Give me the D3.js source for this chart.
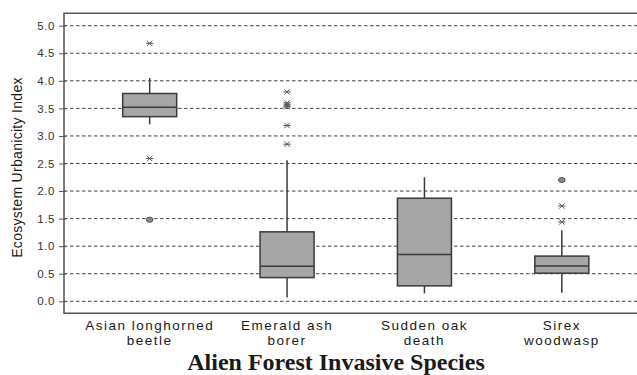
<!DOCTYPE html>
<html>
<head>
<meta charset="utf-8">
<script src="https://cdn.jsdelivr.net/npm/d3@7"></script>
<style>
  body { margin: 0; background: #fff; }
  svg { display: block; }
</style>
</head>
<body>
<svg id="chart" width="637" height="375"></svg>
<script>
// species on the x axis (two text lines each)
const categories = ["Asian longhorned beetle", "Emerald ash borer", "Sudden oak death", "Sirex woodwasp"];
const labelLines = [["Asian longhorned", "beetle"], ["Emerald ash", "borer"], ["Sudden oak", "death"], ["Sirex", "woodwasp"]];

// box plot summaries per species
const whiskerLow  = [3.21, 0.07, 0.145, 0.155];
const q1          = [3.35, 0.43, 0.28, 0.51];
const median      = [3.52, 0.635, 0.85, 0.64];
const q3          = [3.77, 1.26, 1.87, 0.82];
const whiskerHigh = [4.05, 2.56, 2.25, 1.29];

// outliers: stars (extreme) and circles (mild)
const extremeOutliers = [[4.68, 2.59], [3.80, 3.60, 3.56, 3.53, 3.19, 2.85], [], [1.73, 1.44]];
const mildOutliers    = [[1.48], [], [], [2.20]];

const yTicks = [0, 0.5, 1, 1.5, 2, 2.5, 3, 3.5, 4, 4.5, 5];

var svg = d3.select("#chart"),
    frame = { left: 64, right: 637, top: 13.3, bottom: 313.3 };

var x = d3.scaleBand()
    .domain(categories)
    .range([81, 630.5]);

var y = d3.scaleLinear()
    .domain([0, 5])
    .range([301.3, 25.7]);

const boxW = 54;
const ink = "#3a3a3a";

// grid lines
svg.append("g")
    .selectAll("line")
    .data(yTicks)
    .enter().append("line")
    .attr("x1", frame.left)
    .attr("x2", frame.right)
    .attr("y1", d => y(d))
    .attr("y2", d => y(d))
    .attr("stroke", "#444")
    .attr("stroke-width", 1)
    .attr("stroke-dasharray", "3.5,2.5");

// frame (left axis, top and bottom)
svg.append("path")
    .attr("d", `M${frame.right},${frame.top}H${frame.left}V${frame.bottom}H${frame.right}`)
    .attr("fill", "none")
    .attr("stroke", "#555")
    .attr("stroke-width", 1.5);

// y axis ticks + labels
var yAxis = svg.append("g")
    .attr("transform", `translate(${frame.left},0)`)
    .call(d3.axisLeft(y).tickValues(yTicks).tickFormat(d3.format(".1f")).tickSize(5).tickPadding(4))
yAxis.select(".domain").remove();
yAxis.selectAll(".tick line").attr("stroke", "#555").attr("x2", -5).attr("x1", 2);
yAxis.selectAll(".tick text")
    .attr("font-family", "Liberation Sans, Arial, sans-serif")
    .attr("font-size", "11.5px")
    .attr("letter-spacing", "0.6px")
    .attr("fill", "#333");

// y axis title
svg.append("text")
    .attr("transform", "translate(22,167.5) rotate(-90)")
    .attr("text-anchor", "middle")
    .attr("font-family", "Liberation Sans, Arial, sans-serif")
    .attr("font-size", "14px")
    .attr("letter-spacing", "0.3px")
    .attr("fill", "#1a1a1a")
    .text("Ecosystem Urbanicity Index");

// x labels
var xl = svg.append("g");
categories.forEach(function (c, i) {
    var cx = x(c) + x.bandwidth() / 2;
    var t = xl.append("text")
        .attr("x", cx)
        .attr("text-anchor", "middle")
        .attr("font-family", "Liberation Sans, Arial, sans-serif")
        .attr("font-size", "13.5px")
        .attr("letter-spacing", "1.5px")
        .attr("fill", "#1a1a1a");
    labelLines[i].forEach(function (ln, j) {
        t.append("tspan").attr("x", cx).attr("y", 329.5 + j * 15.5).text(ln);
    });
});

// boxes
var g = svg.selectAll("g.box")
    .data(categories)
    .enter().append("g")
    .attr("class", "box")
    .attr("transform", d => `translate(${x(d) + x.bandwidth() / 2},0)`);

g.append("line")
    .attr("y1", (d, i) => y(whiskerLow[i]))
    .attr("y2", (d, i) => y(q1[i]))
    .attr("stroke", ink).attr("stroke-width", 1.5);

g.append("line")
    .attr("y1", (d, i) => y(q3[i]))
    .attr("y2", (d, i) => y(whiskerHigh[i]))
    .attr("stroke", ink).attr("stroke-width", 1.5);

g.append("rect")
    .attr("x", -boxW / 2)
    .attr("width", boxW)
    .attr("y", (d, i) => y(q3[i]))
    .attr("height", (d, i) => y(q1[i]) - y(q3[i]))
    .attr("fill", "#a6a6a6")
    .attr("stroke", ink)
    .attr("stroke-width", 1.5);

g.append("line")
    .attr("x1", -boxW / 2)
    .attr("x2", boxW / 2)
    .attr("y1", (d, i) => y(median[i]))
    .attr("y2", (d, i) => y(median[i]))
    .attr("stroke", ink).attr("stroke-width", 1.5);

// star outliers
g.selectAll("path.star")
    .data((d, i) => extremeOutliers[i])
    .enter().append("path")
    .attr("class", "star")
    .attr("transform", d => `translate(0,${y(d)})`)
    .attr("d", "M-2.7,-2.7L2.7,2.7M-2.7,2.7L2.7,-2.7M-3.7,0H3.7")
    .attr("stroke", "#555")
    .attr("stroke-width", 1)
    .attr("fill", "none");

// circle outliers
g.selectAll("ellipse.mild")
    .data((d, i) => mildOutliers[i])
    .enter().append("ellipse")
    .attr("class", "mild")
    .attr("cy", d => y(d))
    .attr("rx", 3.3)
    .attr("ry", 2.6)
    .attr("fill", "#888")
    .attr("stroke", "#555")
    .attr("stroke-width", 1);

// title
svg.append("text")
    .attr("x", 336)
    .attr("y", 370)
    .attr("text-anchor", "middle")
    .attr("font-family", "Liberation Serif, Times New Roman, serif")
    .attr("font-weight", "bold")
    .attr("font-size", "24px")
    .attr("fill", "#1a1a1a")
    .text("Alien Forest Invasive Species");
</script>
</body>
</html>
